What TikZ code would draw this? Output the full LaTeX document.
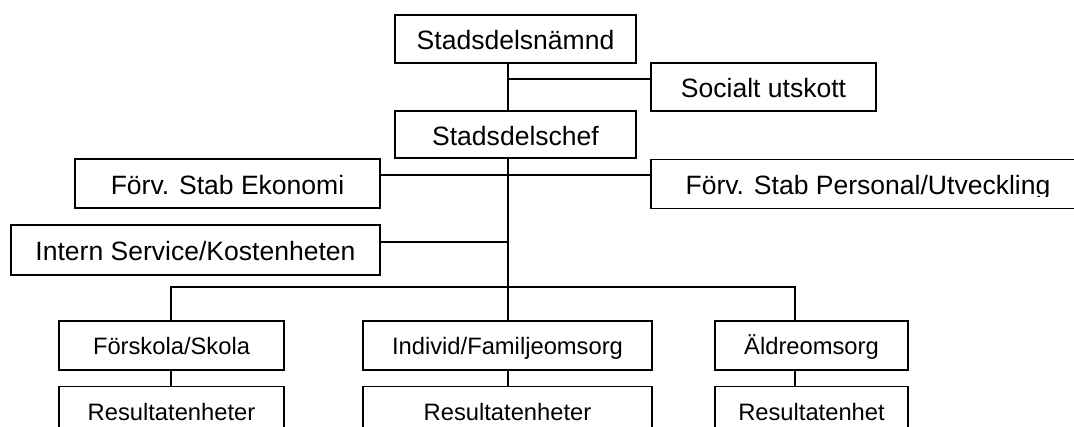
\documentclass[tikz,border=0pt]{standalone}
\usepackage{fontspec}
\setmainfont{Liberation Sans}
\begin{document}
\begin{tikzpicture}[x=0.75pt,y=-0.75pt,
  line width=1.3pt,
  box/.style={draw,line width=1.3pt,rectangle,inner sep=0pt,anchor=center,text depth=0pt},
  big/.style={font=\fontsize{19.9}{24}\selectfont,text height=15.9pt},
  small/.style={font=\fontsize{17.8}{21}\selectfont,text height=13.5pt}]
\useasboundingbox (0,0) rectangle (1074,426);
% top boxes
\node[box,big,minimum width=180.75pt,minimum height=36pt] (A) at (515.5,39) {Stadsdelsnämnd};
\node[box,big,minimum width=168.75pt,minimum height=36pt] (B) at (763.5,87) {Socialt utskott};
\node[box,big,minimum width=180.75pt,minimum height=35.25pt] (C) at (515.5,134.5) {Stadsdelschef};
\node[box,big,minimum width=228.75pt,minimum height=36.75pt] (D) at (227.5,183.5) {Förv. Stab Ekonomi};
\node[box,big,minimum width=329.25pt,minimum height=36.75pt] (E) at (870.5,184) {};
\begin{scope}
\clip (651,150) rectangle (1074,196.5);
\node[big,inner sep=0pt,text depth=0pt] (Etext) at (868,184) {Förv. Stab Personal/Utveckling};
\end{scope}
\node[box,big,minimum width=276.75pt,minimum height=37.5pt] (F) at (195.5,250) {Intern Service/Kostenheten};
% bottom boxes
\node[box,small,minimum width=168.75pt,minimum height=36.75pt] (G) at (171.5,345.5) {Förskola/Skola};
\node[box,small,minimum width=216.75pt,minimum height=36.75pt] (H) at (507.5,345.5) {Individ/Familjeomsorg};
\node[box,small,minimum width=144.75pt,minimum height=36.75pt] (I) at (811.5,345.5) {Äldreomsorg};
\node[box,small,minimum width=168.75pt,minimum height=36.75pt] (J) at (171.5,411) {Resultatenheter};
\node[box,small,minimum width=216.75pt,minimum height=36.75pt] (K) at (507.5,411) {Resultatenheter};
\node[box,small,minimum width=144.75pt,minimum height=36.75pt] (L) at (811.5,411) {Resultatenhet};
% junction coordinates
\coordinate (spine) at (508,0);
\coordinate (j1) at (508,79);
\coordinate (j2) at (508,175);
\coordinate (j3) at (508,242);
\coordinate (bl) at (171,287);
\coordinate (bm) at (508,287);
\coordinate (br) at (795,287);
% connectors
\draw (A.south -| spine) -- (C.north -| spine);
\draw (j1) -- (j1 -| B.west);
\draw (D.east |- j2) -- (j2 -| E.west);
\draw (F.east |- j3) -- (j3);
\draw (C.south -| spine) -- (H.north -| spine);
\draw (G.north -| bl) -- (bl) -- (br) -- (I.north -| br);
\draw (G.south -| bl) -- (J.north -| bl);
\draw (H.south -| bm) -- (K.north -| bm);
\draw (I.south -| br) -- (L.north -| br);
\end{tikzpicture}
\end{document}
